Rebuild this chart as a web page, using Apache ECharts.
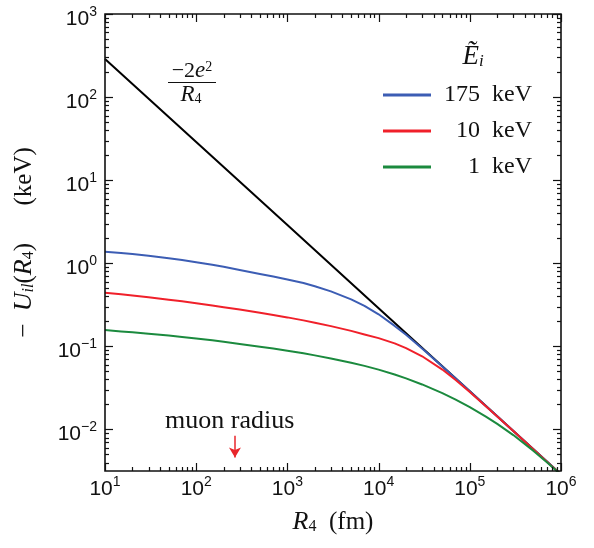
<!DOCTYPE html>
<html>
<head>
<meta charset="utf-8">
<script src="https://cdn.jsdelivr.net/npm/echarts@6/dist/echarts.min.js"></script>
<style>
html, body { margin: 0; padding: 0; background: #fff; }
#main { width: 594px; height: 548px; }
</style>
</head>
<body>
<div id="main"></div>
<script>
// R4 (fm) sample points shared by the three screened curves
var radius = [10, 15, 20, 30, 50, 70, 100, 150, 200, 300, 500, 700, 1e3, 1.5e3, 2e3, 3e3, 5e3, 7e3,
              1e4, 1.5e4, 2e4, 3e4, 5e4, 7e4, 1e5, 1.5e5, 2e5, 3e5, 5e5, 7e5, 1e6];
// -U_il(R4) in keV
var u175 = [1.380, 1.327, 1.290, 1.233, 1.151, 1.096, 1.030, 0.959, 0.906, 0.832, 0.745, 0.692, 0.638,
            0.578, 0.528, 0.4585, 0.3679, 0.3079, 0.2433, 0.1762, 0.1380, 0.0944, 0.0573, 0.0410, 0.02876,
            0.01918, 0.01439, 0.00959, 0.005757, 0.004112, 0.002879];
var u10 = [0.4426, 0.4232, 0.4094, 0.3900, 0.3649, 0.3481, 0.3303, 0.3101, 0.2961, 0.2772, 0.2537, 0.2387,
           0.2232, 0.2054, 0.1928, 0.1753, 0.1535, 0.1392, 0.1256, 0.1085, 0.09535, 0.07598, 0.05259,
           0.03937, 0.02816, 0.01897, 0.0143, 0.00957, 0.00574, 0.0041, 0.00287];
var u1 = [0.1570, 0.1514, 0.1475, 0.1420, 0.1349, 0.1300, 0.1245, 0.1181, 0.1135, 0.1070, 0.0991, 0.0941,
          0.0887, 0.0824, 0.0779, 0.0716, 0.0635, 0.0582, 0.0525, 0.0459, 0.0412, 0.0348, 0.02735, 0.02289,
          0.01854, 0.01430, 0.01169, 0.00856, 0.00552, 0.00404, 0.002854];
// bare Coulomb line -2e^2/R4
var coulombR = [10, 100, 1e3, 1e4, 1e5, 1e6];
var coulombU = [288, 28.8, 2.88, 0.288, 0.0288, 0.00288];

var names = ['175\u2002keV', '10\u2002keV', '1\u2002keV'];
var colors = ['#3c5db4', '#f0202a', '#1b8a3e'];

// muon radius marker
var muonR = 266;
var arrowFrom = 0.0084;
var arrowTo = 0.0046;

var xRange = [10, 1e6];
var yRange = [0.0031623, 1000];
var xMajor = [10, 100, 1e3, 1e4, 1e5, 1e6];
var yMajor = [0.01, 0.1, 1, 10, 100, 1000];
var xMinor = [];
var yMinor = [];
for (var d = 10; d < 1e6; d *= 10) {
    for (var k = 2; k <= 9; k++) xMinor.push(k * d);
}
for (var d2 = 0.001; d2 < 1000; d2 *= 10) {
    for (var k2 = 2; k2 <= 9; k2++) {
        var v = +(k2 * d2).toPrecision(3);
        if (v > 0.0032) yMinor.push(v);
    }
}

// tick items: [x, y, side (0 = x ticks, 1 = y ticks, 2 = frame), major]
var tickData = [[100, 1, 2, 0]];
xMajor.forEach(function (t) { tickData.push([t, 1, 0, 1]); });
xMinor.forEach(function (t) { tickData.push([t, 1, 0, 0]); });
yMajor.forEach(function (t) { tickData.push([100, t, 1, 1]); });
yMinor.forEach(function (t) { tickData.push([100, t, 1, 0]); });

var serif = 'Liberation Serif';
var sans = 'Liberation Sans';
var ink = '#111';

function zip(xs, ys) {
    return xs.map(function (x, i) { return [x, ys[i]]; });
}

function powLabel(val) {
    var e = Math.round(Math.log10(val));
    return '{b|10}{s|' + String(e).replace('-', '\u2212') + '}';
}

function seg(x1, y1, x2, y2) {
    return { type: 'line', shape: { x1: x1, y1: y1, x2: x2, y2: y2 }, style: { stroke: '#111111', lineWidth: 1.2 } };
}

function renderTick(params, api) {
    var cs = params.coordSys;
    var side = api.value(2);
    var len = api.value(3) ? 8 : 4;
    var bottom = cs.y + cs.height, right = cs.x + cs.width;
    if (side === 2) {
        return { type: 'rect', shape: { x: cs.x, y: cs.y, width: cs.width, height: cs.height },
                 style: { fill: null, stroke: '#111111', lineWidth: 1.6 } };
    }
    var p = api.coord([api.value(0), api.value(1)]);
    if (side === 0) {
        var px = Math.round(p[0]) + 0.5;
        return { type: 'group', children: [seg(px, bottom, px, bottom - len), seg(px, cs.y, px, cs.y + len)] };
    }
    var py = Math.round(p[1]) + 0.5;
    return { type: 'group', children: [seg(cs.x, py, cs.x + len, py), seg(right, py, right - len, py)] };
}

var titleRich = {
    i: { fontFamily: serif, fontStyle: 'italic', fontSize: 26, color: ink },
    si: { fontFamily: serif, fontStyle: 'italic', fontSize: 16, color: ink, padding: [10, 0, 0, 0] },
    sb: { fontFamily: serif, fontSize: 16, color: ink, padding: [10, 0, 0, 0] },
    p: { fontFamily: serif, fontSize: 25, color: ink },
    m: { fontFamily: serif, fontSize: 25, color: ink }
};

var series = [{
    name: 'coulomb', type: 'line', data: zip(coulombR, coulombU),
    symbol: 'none', color: '#000', lineStyle: { color: '#000', width: 2 },
    markLine: {
        silent: true, symbol: ['none', 'arrow'], symbolSize: [9, 10],
        label: { show: false },
        lineStyle: { color: '#e8262b', width: 1.5, type: 'solid' },
        data: [[{ coord: [muonR, arrowFrom] }, { coord: [muonR, arrowTo] }]]
    }
}];
[u175, u10, u1].forEach(function (vals, i) {
    series.push({
        name: names[i], type: 'line', data: zip(radius, vals),
        symbol: 'none', color: colors[i], lineStyle: { color: colors[i], width: 2 }
    });
});
series.push({
    name: 'ticks', type: 'custom', data: tickData, renderItem: renderTick,
    clip: false, z: 10, encode: { x: 0, y: 1 }
});

var chart = echarts.init(document.getElementById('main'));
chart.setOption({
    animation: false,
    backgroundColor: '#fff',
    grid: { left: 105, right: 33, top: 14, bottom: 77, outerBoundsMode: 'none' },
    xAxis: {
        type: 'log', logBase: 10, min: xRange[0], max: xRange[1],
        splitLine: { show: false }, axisTick: { show: false }, axisLine: { show: false },
        axisLabel: {
            show: true, customValues: xMajor, margin: 4, formatter: powLabel, color: ink,
            rich: {
                b: { fontFamily: sans, fontSize: 21, color: ink },
                s: { fontFamily: sans, fontSize: 14, color: ink, padding: [0, 0, 14, 0] }
            }
        },
        name: '{i|R}{sb|4}{p|\u2002(fm)}', nameLocation: 'middle', nameGap: 38,
        nameTextStyle: { fontFamily: serif, fontSize: 25, color: ink, rich: titleRich }
    },
    yAxis: {
        type: 'log', logBase: 10, min: yRange[0], max: yRange[1],
        splitLine: { show: false }, axisTick: { show: false }, axisLine: { show: false },
        axisLabel: {
            show: true, customValues: yMajor, margin: 8, formatter: powLabel, color: ink,
            rich: {
                b: { fontFamily: sans, fontSize: 21, color: ink, padding: [10, 0, 0, 0] },
                s: { fontFamily: sans, fontSize: 14, color: ink, padding: [0, 0, 4, 0] }
            }
        },
        name: '{m|\u2212}\u2002{i|U}{si|il}{p|(}{i|R}{sb|4}{p|)}\u2003\u2002{p|(keV)}',
        nameLocation: 'middle', nameRotate: 90, nameGap: 68,
        nameTextStyle: { fontFamily: serif, fontSize: 25, color: ink, rich: titleRich }
    },
    legend: {
        data: names, orient: 'vertical', left: 378, top: 78, padding: 5,
        itemWidth: 48, itemHeight: 3, itemGap: 12, icon: 'rect',
        textStyle: {
            fontFamily: serif, fontSize: 24, color: ink,
            rich: { r: { fontFamily: serif, fontSize: 24, color: ink, width: 96, align: 'right' } }
        },
        formatter: function (n) { return '{r|' + n + '}'; }
    },
    graphic: { elements: [
        { type: 'text', x: 165, y: 421,
          style: { text: 'muon radius', fontFamily: serif, fontSize: 26, fill: ink,
                   align: 'left', textAlign: 'left', verticalAlign: 'middle', textVerticalAlign: 'middle' } },
        { type: 'text', x: 192, y: 71,
          style: { text: '{n|\u22122}{i|e}{s|2}', fill: ink,
                   align: 'center', textAlign: 'center', verticalAlign: 'middle', textVerticalAlign: 'middle',
                   rich: {
                       n: { fontFamily: serif, fontSize: 22, fill: ink, lineHeight: 18 },
                       i: { fontFamily: serif, fontStyle: 'italic', fontSize: 23, fill: ink, lineHeight: 18 },
                       s: { fontFamily: serif, fontSize: 14, fill: ink, lineHeight: 10, padding: [0, 0, 8, 0] }
                   } } },
        { type: 'line', shape: { x1: 168, y1: 82.5, x2: 216, y2: 82.5 }, style: { stroke: ink, lineWidth: 1.2 } },
        { type: 'text', x: 191, y: 95,
          style: { text: '{i|R}{s|4}', fill: ink,
                   align: 'center', textAlign: 'center', verticalAlign: 'middle', textVerticalAlign: 'middle',
                   rich: {
                       i: { fontFamily: serif, fontStyle: 'italic', fontSize: 23, fill: ink, lineHeight: 18 },
                       s: { fontFamily: serif, fontSize: 14, fill: ink, lineHeight: 10, padding: [8, 0, 0, 0] }
                   } } },
        { type: 'text', x: 473, y: 57,
          style: { text: '{e|\u1EBC}{s|i}', fill: ink,
                   align: 'center', textAlign: 'center', verticalAlign: 'middle', textVerticalAlign: 'middle',
                   rich: {
                       e: { fontFamily: serif, fontStyle: 'italic', fontSize: 27, fill: ink },
                       s: { fontFamily: serif, fontStyle: 'italic', fontSize: 17, fill: ink, padding: [9, 0, 0, 0] }
                   } } }
    ] },
    series: series
});
</script>
</body>
</html>
